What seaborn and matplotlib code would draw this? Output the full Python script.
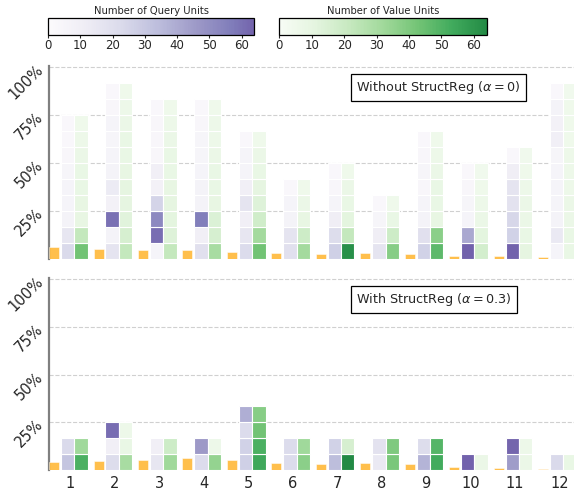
import numpy as np
import matplotlib
matplotlib.use("Agg")
import matplotlib.pyplot as plt
import seaborn as sns
from matplotlib.colors import ListedColormap, Normalize
from matplotlib.cm import ScalarMappable

# ---------------- data ----------------
layers = list(range(1, 13))
tick_labels = [str(i) for i in layers]
y_ticks = [0.25, 0.50, 0.75, 1.00]
y_tick_labels = ["25%", "50%", "75%", "100%"]
cbar_ticks = [0, 10, 20, 30, 40, 50, 60]

# Without StructReg: per layer, stacked cells (bottom -> top)
top_query = [
    [23, 16, 7, 6, 6, 5, 4, 3, 3],
    [17, 7, 60, 8, 13, 7, 6, 5, 6, 4, 3],
    [6, 61, 52, 25, 8, 10, 4, 4, 4, 3],
    [19, 10, 56, 7, 7, 6, 5, 5, 4, 3],
    [22, 16, 10, 17, 10, 6, 6, 3],
    [19, 17, 7, 6, 3],
    [27, 21, 11, 6, 4, 3],
    [17, 11, 5, 3],
    [26, 19, 7, 6, 4, 5, 4, 3],
    [64, 41, 6, 5, 4, 3],
    [64, 26, 24, 18, 17, 11, 3],
    [6, 14, 7, 6, 6, 6, 5, 10, 8, 7, 3],
]
top_value = [
    [43, 22, 9, 9, 8, 8, 7, 6, 5],
    [22, 16, 12, 10, 10, 9, 8, 8, 7, 6, 5],
    [22, 13, 11, 10, 9, 8, 8, 7, 6, 5],
    [30, 16, 14, 9, 8, 8, 7, 6, 6, 5],
    [43, 31, 18, 13, 10, 8, 7, 5],
    [31, 19, 9, 7, 5],
    [62, 22, 11, 8, 7, 5],
    [38, 19, 8, 5],
    [47, 37, 9, 8, 8, 7, 6, 5],
    [17, 11, 7, 6, 5, 4],
    [10, 8, 7, 7, 6, 5, 4],
    [8, 8, 7, 7, 6, 6, 6, 5, 5, 5, 4],
]
top_share = [6.1, 5.4, 4.7, 4.7, 3.8, 3.0, 2.4, 3.2, 2.8, 1.7, 1.4, 0.8]

# With StructReg
bot_query = [
    [31, 23],
    [21, 10, 61],
    [16, 10],
    [22, 46],
    [27, 26, 22, 39],
    [22, 22],
    [34, 26],
    [14, 18],
    [37, 21],
    [64],
    [45, 63],
    [23],
]
bot_value = [
    [51, 32],
    [30, 8, 6],
    [32, 19],
    [35, 6],
    [54, 51, 43, 38],
    [37, 32],
    [64, 16],
    [41, 40],
    [53, 49],
    [7],
    [7, 6],
    [8],
]
bot_share = [4.3, 4.9, 5.2, 6.2, 5.0, 3.8, 3.3, 3.8, 3.3, 1.4, 1.0, 0.6]

titles = ["Without StructReg ($\\alpha = 0$)", "With StructReg ($\\alpha = 0.3$)"]

# ---------------- style ----------------
sns.set_style("white")
plt.rcParams["font.family"] = ["DejaVu Sans"]

purples = ListedColormap(sns.color_palette("Purples", as_cmap=True)(np.linspace(0, 0.7, 256)))
greens = ListedColormap(sns.color_palette("Greens", as_cmap=True)(np.linspace(0, 0.75, 256)))
norm = Normalize(0, 64)
cell = 1.0 / 12

W, H = 574, 493
fig = plt.figure(figsize=(W / 100, H / 100), dpi=100)


def px_axes(l, t, r, b):
    return fig.add_axes([l / W, 1 - b / H, (r - l) / W, (b - t) / H])


def draw(ax, query, value, share, title, show_x):
    for i, x in enumerate(layers):
        ax.bar(x - 0.367, share[i] / 100, width=0.225, color="orange", alpha=0.7,
               edgecolor="white", linewidth=0.5, zorder=3)
        for j, (q, v) in enumerate(zip(query[i], value[i])):
            ax.bar(x - 0.06, cell, bottom=j * cell, width=0.3, color=purples(norm(q)),
                   edgecolor="white", linewidth=0.8, zorder=3)
            ax.bar(x + 0.24, cell, bottom=j * cell, width=0.3, color=greens(norm(v)),
                   edgecolor="white", linewidth=0.8, zorder=3)
    ax.set_xlim(0.519, 12.33)
    ax.set_ylim(0, 1.006)
    ax.set_yticks(y_ticks)
    ax.set_yticklabels(y_tick_labels, rotation=45, rotation_mode="anchor",
                       ha="right", va="center", fontsize=10.5)
    ax.tick_params(axis="y", length=3, width=1, color="#808080", pad=3)
    ax.set_xticks(layers)
    if show_x:
        ax.set_xticklabels(tick_labels, fontsize=10.5)
    else:
        ax.set_xticklabels([])
    ax.tick_params(axis="x", length=0, pad=4)
    ax.yaxis.grid(True, linestyle="--", color="#d0d0d0", linewidth=0.8)
    ax.xaxis.grid(False)
    ax.set_axisbelow(True)
    sns.despine(ax=ax, top=True, right=True, bottom=True, left=False)
    ax.spines["left"].set_color("#808080")
    ax.spines["left"].set_linewidth(1.6)
    ax.text(0.585, 0.889, title, transform=ax.transAxes, ha="left", va="center",
            fontsize=9.2, zorder=5,
            bbox=dict(boxstyle="square,pad=0.42", facecolor="white",
                      edgecolor="black", linewidth=0.9))


ax1 = px_axes(49, 66, 574, 259)
ax2 = px_axes(49, 278.3, 574, 470)
draw(ax1, top_query, top_value, top_share, titles[0], False)
draw(ax2, bot_query, bot_value, bot_share, titles[1], True)

for (l, r, cmap, label) in [(48, 254.5, purples, "Number of Query Units"),
                            (279.3, 486.7, greens, "Number of Value Units")]:
    cax = px_axes(l, 18, r, 34.5)
    cb = fig.colorbar(ScalarMappable(norm=norm, cmap=cmap), cax=cax, orientation="horizontal")
    cb.set_ticks(cbar_ticks)
    cb.ax.tick_params(labelsize=8.5, length=2.5, width=0.8, pad=1)
    cb.outline.set_linewidth(0.9)
    cb.outline.set_edgecolor("black")
    cax.set_title(label, fontsize=7.2, pad=3)

fig.savefig("out.png", dpi=100)
